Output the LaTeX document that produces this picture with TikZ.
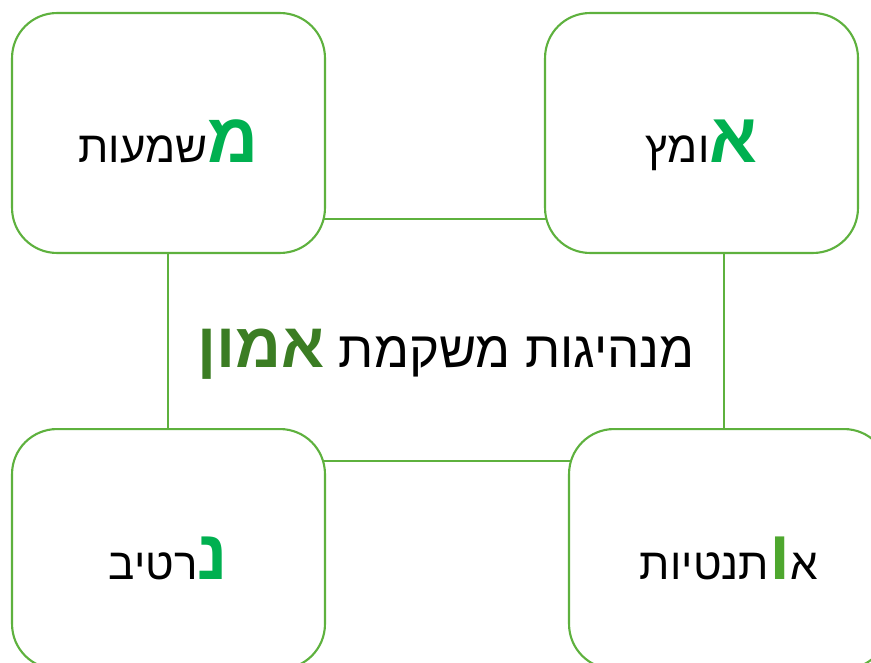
\documentclass[tikz,border=0pt]{standalone}
\usepackage{fontspec}
\setmainfont[Script=Hebrew]{Liberation Sans}
\TeXXeTstate=1
\usetikzlibrary{positioning}
\definecolor{frame}{HTML}{5EB13E}
\definecolor{initial}{HTML}{00B050}
\definecolor{initialb}{HTML}{4EA72E}
\definecolor{trust}{HTML}{3B7D23}
% visual order, left to right: the word's tail, then its big first letter
\newcommand\capletter[2][initial]{{\color{#1}\fontsize{40}{44}\selectfont\bfseries #2}}
\newcommand\rtl[1]{\beginR #1\endR}

\begin{document}
\begin{tikzpicture}[x=0.02cm, y=-0.02cm,
        corner/.style={draw=frame, fill=white, line width=1.2pt, rounded corners=0.9cm, minimum width=6.26cm, minimum height=4.8cm, text height=1.2cm, text depth=0pt, align=center, font=\fontsize{25}{30}\selectfont},
        core/.style={draw=frame, line width=1.2pt, minimum width=11.12cm, minimum height=4.84cm, text height=1.1cm, text depth=0pt, align=center, font=\fontsize{29}{34}\selectfont}
    ]
    \useasboundingbox (0,0) rectangle (871,662);
    \node[core] (leadership) at (446,340) {{\color{trust}\fontsize{36}{42}\selectfont\bfseries\rtl{אמון}} \rtl{מנהיגות משקמת}};
    \node[corner] (meaning) at (168.5,133) {\rtl{שמעות}\capletter{מ}};
    \node[corner, right=4.36cm of meaning] (courage) {\rtl{ומץ}\capletter{א}};
    \node[corner, below=3.48cm of meaning] (narrative) {\rtl{רטיב}\capletter{נ}};
    \node[corner, below=3.48cm of courage.south west, anchor=north west, xshift=0.48cm, minimum width=6.4cm] (authentic) {\rtl{תנטיות}\capletter[initialb]{ו}א};
    \end{tikzpicture}
\end{document}
